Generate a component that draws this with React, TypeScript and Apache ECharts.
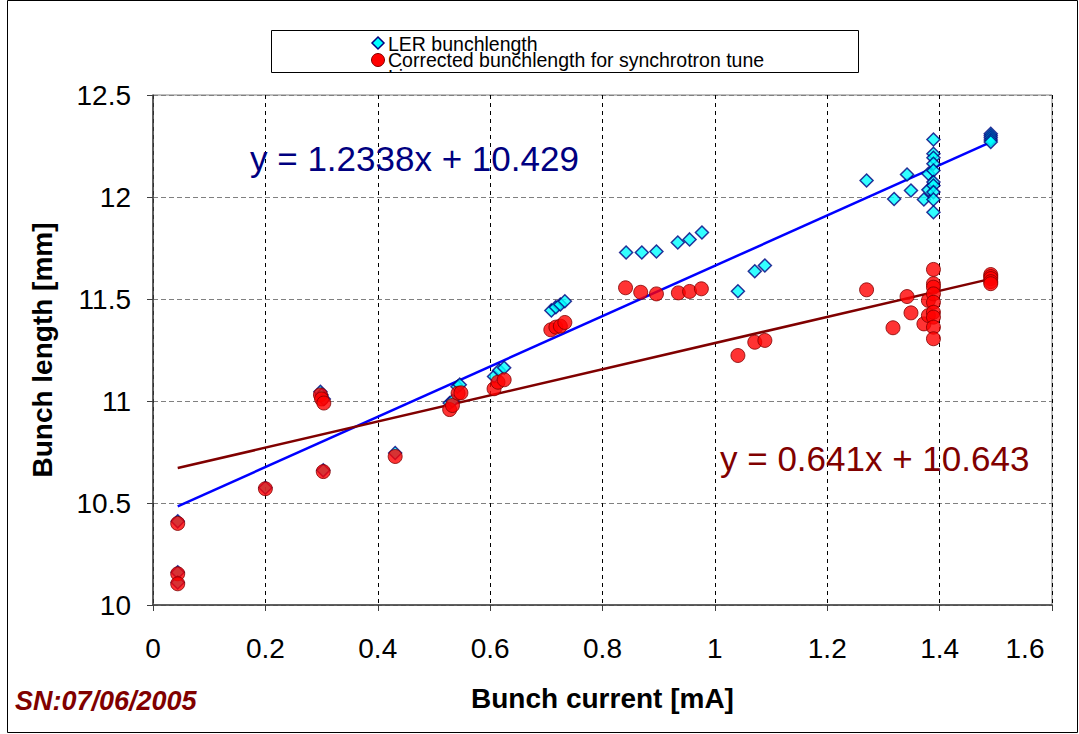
import React, { useEffect, useRef } from "react";
import * as echarts from "echarts";

const xTicks = [0, 0.2, 0.4, 0.6, 0.8, 1, 1.2, 1.4, 1.6];
const yTicks = [10, 10.5, 11, 11.5, 12, 12.5];

const lerX = [
  0.044, 0.044, 0.044, 0.2, 0.298, 0.3, 0.304, 0.303, 0.431,
  0.528, 0.533, 0.542, 0.546, 0.607, 0.616, 0.625,
  0.709, 0.717, 0.725, 0.733,
  0.842, 0.87, 0.896, 0.934, 0.955, 0.977,
  1.041, 1.071, 1.089,
  1.27, 1.319, 1.342, 1.349, 1.372, 1.38, 1.38,
  1.389, 1.389, 1.389, 1.389, 1.389, 1.389, 1.389, 1.389, 1.389, 1.389,
  1.491, 1.491, 1.491, 1.491, 1.491,
];
const lerY = [
  10.41, 10.16, 10.11, 10.575, 11.045, 11.03, 11.01, 10.66, 10.745,
  10.99, 11.0, 11.07, 11.08, 11.12, 11.15, 11.163,
  11.444, 11.46, 11.473, 11.489,
  11.728, 11.728, 11.733, 11.777, 11.792, 11.826,
  11.538, 11.636, 11.664,
  12.081, 11.99, 12.11, 12.032, 11.988, 12.035, 12.114,
  12.282, 12.212, 12.192, 12.163, 12.13, 12.073, 12.056, 12.024, 11.988, 11.925,
  12.31, 12.3, 12.29, 12.28, 12.27,
];

const corrX = [
  0.044, 0.044, 0.044, 0.2, 0.298, 0.3, 0.304, 0.303, 0.431,
  0.528, 0.533, 0.543, 0.548, 0.607, 0.614, 0.625,
  0.708, 0.717, 0.725, 0.733,
  0.841, 0.868, 0.896, 0.935, 0.955, 0.976,
  1.041, 1.071, 1.089,
  1.27, 1.317, 1.342, 1.349, 1.372, 1.38, 1.38,
  1.389, 1.389, 1.389, 1.389, 1.389, 1.389, 1.389, 1.389, 1.389,
  1.491, 1.491, 1.491, 1.491, 1.491,
];
const corrY = [
  10.4, 10.153, 10.104, 10.57, 11.03, 11.01, 10.99, 10.654, 10.728,
  10.958, 10.978, 11.038, 11.04, 11.06, 11.092, 11.104,
  11.349, 11.362, 11.367, 11.385,
  11.555, 11.533, 11.525, 11.53, 11.537, 11.55,
  11.223, 11.288, 11.297,
  11.545, 11.359, 11.512, 11.432, 11.378, 11.419, 11.493,
  11.645, 11.575, 11.558, 11.525, 11.484, 11.435, 11.411, 11.362, 11.305,
  11.62, 11.61, 11.6, 11.585, 11.575,
];

// Trend lines (Excel linear fits, as printed on the chart)
const trendRange = [0.044, 1.491];
const lerFit = { slope: 1.2338, intercept: 10.429 };
const corrFit = { slope: 0.641, intercept: 10.643 };

const seriesNames = ["LER bunchlength", "Corrected bunchlength for synchrotron tune", "Linear"];
const lerEq = "y = 1.2338x + 10.429";
const corrEq = "y = 0.641x + 10.643";
const xTitle = "Bunch current [mA]";
const yTitle = "Bunch length [mm]";
const stamp = "SN:07/06/2005";

const FONT = "'Liberation Sans', Arial, sans-serif";

export default function App() {
  const ref = useRef<HTMLDivElement>(null);
  useEffect(() => {
    document.body.style.margin = "0";
    const chart = echarts.init(ref.current!, null, { renderer: "svg" });
    const lerData = lerX.map((x, i) => [x, lerY[i]]);
    const corrData = corrX.map((x, i) => [x, corrY[i]]);
    const lerLine = trendRange.map((x) => [x, lerFit.slope * x + lerFit.intercept]);
    const corrLine = trendRange.map((x) => [x, corrFit.slope * x + corrFit.intercept]);
    const lastTick = xTicks[xTicks.length - 1];

    chart.setOption({
      animation: false,
      backgroundColor: "#ffffff",
      textStyle: { fontFamily: FONT },
      grid: {
        left: 153,
        top: 95,
        right: 27,
        bottom: 129,
        show: true,
        borderColor: "#808080",
        borderWidth: 1,
        backgroundColor: "transparent",
      },
      xAxis: {
        type: "value",
        min: 0,
        max: 1.6,
        interval: 0.2,
        name: xTitle,
        nameLocation: "middle",
        nameGap: 79,
        nameTextStyle: { fontSize: 28, fontWeight: "bold", color: "#000", fontFamily: FONT },
        axisLine: { onZero: false, lineStyle: { color: "#404040", width: 1.5 } },
        axisTick: { show: true, length: 6, lineStyle: { color: "#404040" } },
        axisLabel: {
          fontSize: 28,
          color: "#000",
          margin: 29,
          fontFamily: FONT,
          formatter: (v: number) => {
            const t = xTicks.find((tt) => Math.abs(tt - v) < 1e-9) ?? v;
            return Math.abs(t - lastTick) < 1e-9 ? `{last|${t}}` : String(t);
          },
          rich: {
            last: { fontSize: 28, color: "#000", fontFamily: FONT, padding: [0, 54, 0, 0] },
          },
        },
        splitLine: { show: true, lineStyle: { color: "#000", type: [4, 4], width: 1 } },
      },
      yAxis: {
        type: "value",
        min: 10,
        max: 12.5,
        interval: 0.5,
        name: yTitle,
        nameLocation: "middle",
        nameGap: 97,
        nameRotate: 90,
        nameTextStyle: { fontSize: 28, fontWeight: "bold", color: "#000", fontFamily: FONT },
        axisLine: { show: true, lineStyle: { color: "#404040", width: 1.5 } },
        axisTick: { show: true, length: 6, lineStyle: { color: "#404040" } },
        axisLabel: {
          fontSize: 28,
          color: "#000",
          margin: 22,
          fontFamily: FONT,
          formatter: (v: number) => String(yTicks.find((t) => Math.abs(t - v) < 1e-9) ?? v),
        },
        splitLine: { show: true, lineStyle: { color: "#808080", type: [5, 3], width: 1 } },
      },
      series: [
        {
          name: seriesNames[0] + " fit",
          type: "line",
          data: lerLine,
          symbol: "none",
          lineStyle: { color: "#0000ff", width: 2.5 },
          z: 3,
        },
        {
          name: seriesNames[1] + " fit",
          type: "line",
          data: corrLine,
          symbol: "none",
          lineStyle: { color: "#800000", width: 2.5 },
          z: 3,
        },
        {
          name: seriesNames[0],
          type: "scatter",
          data: lerData,
          symbol: "diamond",
          symbolSize: 13,
          itemStyle: { color: "#00ffff", borderColor: "#000080", borderWidth: 1.5 },
          z: 4,
        },
        {
          name: seriesNames[1],
          type: "scatter",
          data: corrData,
          symbol: "circle",
          symbolSize: 14,
          itemStyle: { color: "#ff0000", borderColor: "#800000", borderWidth: 1 },
          z: 5,
        },
      ],
      graphic: [
        {
          type: "rect",
          shape: { x: 7.5, y: 0.5, width: 1070, height: 732 },
          style: { fill: "none", stroke: "#000", lineWidth: 1 },
          silent: true,
        },
        {
          type: "rect",
          shape: { x: 271.5, y: 30.5, width: 587, height: 42 },
          style: { fill: "#fff", stroke: "none" },
          z: 10,
        },
        {
          type: "polygon",
          shape: { points: [[378, 37], [384, 43], [378, 49], [372, 43]] },
          style: { fill: "#00ffff", stroke: "#000080", lineWidth: 1.5 },
          z: 11,
        },
        {
          type: "text",
          x: 388,
          y: 44,
          style: { text: seriesNames[0], font: `19.5px ${FONT}`, fill: "#000", textVerticalAlign: "middle" },
          z: 11,
        },
        {
          type: "circle",
          shape: { cx: 378, cy: 60, r: 6.5 },
          style: { fill: "#ff0000", stroke: "#800000", lineWidth: 1 },
          z: 11,
        },
        {
          type: "text",
          x: 388,
          y: 60,
          style: { text: seriesNames[1], font: `19.5px ${FONT}`, fill: "#000", textVerticalAlign: "middle" },
          z: 11,
        },
        {
          type: "text",
          x: 388,
          y: 77,
          style: { text: seriesNames[2], font: `19.5px ${FONT}`, fill: "#000", textVerticalAlign: "middle" },
          z: 11,
        },
        {
          type: "rect",
          shape: { x: 272, y: 73, width: 586, height: 16 },
          style: { fill: "#fff", stroke: "none" },
          z: 12,
        },
        {
          type: "rect",
          shape: { x: 271.5, y: 30.5, width: 587, height: 42 },
          style: { fill: "none", stroke: "#000", lineWidth: 1 },
          z: 13,
        },
        {
          type: "text",
          x: 250,
          y: 158,
          style: { text: lerEq, font: `35px ${FONT}`, fill: "#000080", textVerticalAlign: "middle" },
          z: 20,
        },
        {
          type: "text",
          x: 720,
          y: 458,
          style: { text: corrEq, font: `35px ${FONT}`, fill: "#800000", textVerticalAlign: "middle" },
          z: 20,
        },
        {
          type: "text",
          x: 15,
          y: 701,
          style: {
            text: stamp,
            font: `italic bold 27px ${FONT}`,
            fill: "#800000",
            textVerticalAlign: "middle",
          },
          z: 20,
        },
      ],
    });
    return () => chart.dispose();
  }, []);
  return <div ref={ref} style={{ width: 1079, height: 734 }} />;
}
